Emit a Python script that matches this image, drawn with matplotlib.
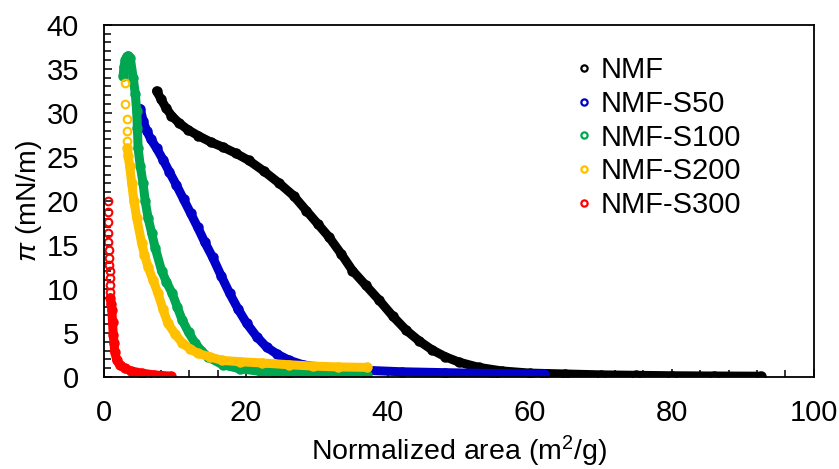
import matplotlib
matplotlib.use('Agg')
import matplotlib.pyplot as plt
from matplotlib.ticker import MultipleLocator

plt.rcParams['font.family'] = ['Liberation Sans', 'DejaVu Sans']
plt.rcParams['mathtext.fontset'] = 'custom'
plt.rcParams['mathtext.rm'] = 'Liberation Sans'
plt.rcParams['mathtext.it'] = 'Liberation Sans:italic'

labels = ['NMF', 'NMF-S50', 'NMF-S100', 'NMF-S200', 'NMF-S300']
colors = ['#000000', '#0000C8', '#00A650', '#FFC000', '#FF0000']

# values (area m2/g, pressure mN/m)
nmf_x = [7.4, 8.0, 8.7, 9.5, 10.5, 11.8, 13.3, 15.0, 16.8, 18.6, 20.4, 22.5, 24.7,
         26.7, 28.5, 30.1, 31.7, 33.4, 35.0, 36.9, 38.8, 40.7, 42.6, 44.4, 46.2,
         48.1, 50.0, 52.8, 56.0, 60.0, 65.0, 70.0, 75.0, 80.0, 86.0, 92.5]
nmf_y = [32.5, 31.6, 30.6, 29.7, 28.9, 28.1, 27.4, 26.7, 26.1, 25.4, 24.6, 23.4, 22.0,
         20.6, 18.9, 17.4, 15.9, 14.0, 12.1, 10.4, 8.7, 6.9, 5.3, 4.1, 3.1,
         2.3, 1.7, 1.1, 0.7, 0.45, 0.35, 0.25, 0.2, 0.15, 0.12, 0.1]

s50_x = [5.1, 5.5, 6.0, 6.6, 7.4, 8.3, 9.2, 10.2, 11.2, 12.2, 13.2, 14.2, 15.3,
         16.5, 17.7, 18.9, 20.1, 21.5, 22.9, 24.4, 26.1, 28.0, 30.3, 33.5, 37.4,
         42.0, 48.0, 55.0, 62.0]
s50_y = [30.5, 29.1, 28.0, 27.0, 26.0, 24.7, 23.3, 21.8, 20.2, 18.6, 17.0, 15.3, 13.6,
         11.5, 9.5, 7.7, 6.1, 4.6, 3.4, 2.6, 1.9, 1.4, 1.1, 0.9, 0.75,
         0.6, 0.5, 0.4, 0.35]

s100_x = [2.7, 2.8, 3.0, 3.2, 3.4, 3.7, 4.1, 4.4, 4.6, 4.7, 4.8, 5.1, 5.5, 5.8,
          6.2, 6.7, 7.2, 8.1, 8.8, 9.6, 10.3, 11.0, 11.9, 12.8, 13.7, 14.6, 16.7,
          19.1, 22.0, 26.1, 31.0, 37.0]
s100_y = [34.2, 35.2, 36.0, 36.4, 36.5, 36.2, 34.0, 32.2, 30.2, 28.3, 26.0, 24.0, 22.0, 20.0,
          18.1, 16.4, 14.7, 12.1, 10.8, 9.5, 8.0, 6.5, 5.1, 3.9, 3.0, 2.3, 1.4,
          0.95, 0.65, 0.45, 0.3, 0.2]

s200_sparse_x = [2.9, 2.9, 3.2, 3.2, 3.2]
s200_sparse_y = [33.4, 31.0, 29.3, 28.0, 26.8]
s200_x = [3.3, 3.4, 3.6, 3.9, 4.2, 4.6, 5.3, 5.7, 6.2, 6.9, 7.6, 8.3, 9.0, 10.0,
          11.0, 12.1, 13.2, 14.9, 16.6, 19.1, 22.3, 26.1, 29.4, 33.0, 37.0]
s200_y = [26.0, 25.1, 24.0, 22.0, 20.0, 18.1, 15.2, 13.9, 12.5, 11.0, 9.5, 7.7, 6.1, 4.9,
          3.9, 3.2, 2.7, 2.3, 1.9, 1.75, 1.6, 1.4, 1.25, 1.15, 1.1]

s300_sparse_x = [0.6, 0.6, 0.6, 0.6, 0.6, 0.65, 0.7, 0.75, 0.8, 0.84, 0.86, 0.88]
s300_sparse_y = [20.0, 18.7, 17.6, 16.4, 15.3, 14.4, 13.5, 12.7, 12.0, 11.2, 10.4, 9.7]
s300_x = [0.9, 1.0, 1.1, 1.2, 1.3, 1.4, 1.5, 1.8, 2.2, 2.9, 3.8, 5.3, 7.0, 9.5]
s300_y = [9.0, 8.3, 7.6, 6.2, 4.8, 3.9, 2.9, 1.9, 1.4, 1.0, 0.7, 0.45, 0.25, 0.1]

dense = [(nmf_x, nmf_y), (s50_x, s50_y), (s100_x, s100_y), (s200_x, s200_y), (s300_x, s300_y)]
sparse = [None, None, None, (s200_sparse_x, s200_sparse_y), (s300_sparse_x, s300_sparse_y)]

fig = plt.figure(figsize=(8.39, 4.69), dpi=100)
ax = fig.add_axes([0.124, 0.196, 0.846, 0.751])

for (dx, dy), sp, c, lab in zip(dense, sparse, colors, labels):
    ax.plot(dx, dy, '-', color=c, lw=6.5, solid_capstyle='round', zorder=2)
    ax.plot(dx, dy, 'o', mfc='none', mec=c, ms=6, mew=1.5, zorder=2)
    if sp is not None:
        ax.plot(sp[0], sp[1], 'o', mfc='none', mec=c, ms=5.5, mew=1.5, zorder=2)
    # legend handle
    ax.plot([], [], 'o', mfc='none', mec=c, ms=4.5, mew=1.6, label=lab)

ax.set_xlim(0, 100)
ax.set_ylim(0, 40)
ax.xaxis.set_major_locator(MultipleLocator(20))
ax.xaxis.set_minor_locator(MultipleLocator(4))
ax.yaxis.set_major_locator(MultipleLocator(5))
ax.yaxis.set_minor_locator(MultipleLocator(1))
ax.tick_params(which='both', direction='in', top=False, right=False,
               labelsize=21, width=1.1, colors='black')
ax.tick_params(axis='x', which='major', pad=16)
ax.tick_params(axis='y', which='major', pad=18)
ax.tick_params(which='major', length=6)
ax.tick_params(which='minor', length=5)
for sp_ in ax.spines.values():
    sp_.set_linewidth(1.3)

ax.set_xlabel('Normalized area (m$^2$/g)', fontsize=20.5, labelpad=4.5)
ax.set_ylabel(r'$\pi$ (mN/m)', fontsize=20.5, labelpad=2)

ax.legend(loc='upper left', bbox_to_anchor=(0.648, 0.945), frameon=False,
          fontsize=21, handlelength=0.6, handletextpad=0.25, labelspacing=0.2,
          borderaxespad=0)

fig.savefig('out.png', dpi=100)
